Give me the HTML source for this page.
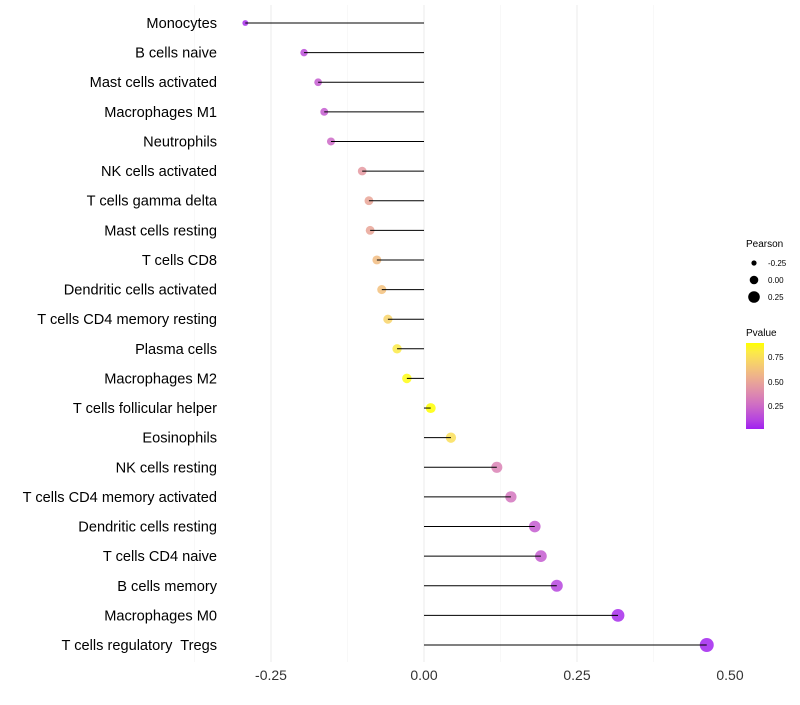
<!DOCTYPE html>
<html><head><meta charset="utf-8"><style>
body{margin:0;background:#fff;font-family:"Liberation Sans",sans-serif;}
text{white-space:pre;}
</style></head><body>
<svg id="chart" width="800" height="700" xmlns="http://www.w3.org/2000/svg">
<defs><linearGradient id="pg" x1="0" y1="1" x2="0" y2="0"></linearGradient></defs>
<g id="grid"></g><g id="marks"></g><g id="stems"></g><g id="labels"></g>
<g font-size="10">
<text x="746" y="247" fill="#000">Pearson</text>
<circle cx="754" cy="263" r="2.6" fill="#000"/><text x="768" y="266" font-size="8">-0.25</text>
<circle cx="754" cy="280" r="4.3" fill="#000"/><text x="768" y="283" font-size="8">0.00</text>
<circle cx="754" cy="297" r="5.8" fill="#000"/><text x="768" y="300" font-size="8">0.25</text>
<text x="746" y="336" fill="#000">Pvalue</text>
<rect x="746" y="343" width="18" height="86" fill="url(#pg)"/>
<text x="768" y="360" font-size="8">0.75</text>
<text x="768" y="385" font-size="8">0.50</text>
<text x="768" y="409" font-size="8">0.25</text>
</g>
</svg>
<script>
const categories=["Monocytes","B cells naive","Mast cells activated","Macrophages M1","Neutrophils","NK cells activated","T cells gamma delta","Mast cells resting","T cells CD8","Dendritic cells activated","T cells CD4 memory resting","Plasma cells","Macrophages M2","T cells follicular helper","Eosinophils","NK cells resting","T cells CD4 memory activated","Dendritic cells resting","T cells CD4 naive","B cells memory","Macrophages M0","T cells regulatory  Tregs"];
const pearson=[-0.292,-0.196,-0.173,-0.163,-0.152,-0.101,-0.090,-0.088,-0.077,-0.069,-0.059,-0.044,-0.028,0.011,0.044,0.119,0.142,0.181,0.191,0.217,0.317,0.462];
const pvalue=[0.05,0.15,0.2,0.2,0.25,0.45,0.5,0.5,0.6,0.62,0.7,0.8,0.88,0.95,0.75,0.35,0.3,0.2,0.2,0.12,0.05,0.03];
const xTicks=[-0.25,0,0.25,0.5];
const xTickLabels=["-0.25","0.00","0.25","0.50"];
const NS="http://www.w3.org/2000/svg";
const xs=v=>424+v*612;
const ys=i=>23+i*(622/21);
const rs=v=>Math.sqrt(Math.max(2.5,13.7+53.6*(v+0.196)));
function toLin(c){c/=255;return c<=0.04045?c/12.92:Math.pow((c+0.055)/1.055,2.4);}
function fromLin(c){c=c<=0.0031308?12.92*c:1.055*Math.pow(c,1/2.4)-0.055;return Math.round(Math.max(0,Math.min(1,c))*255);}
function rgb2lab(r,g,b){r=toLin(r);g=toLin(g);b=toLin(b);
let x=(0.4124*r+0.3576*g+0.1805*b)/0.95047,y=0.2126*r+0.7152*g+0.0722*b,z=(0.0193*r+0.1192*g+0.9505*b)/1.08883;
const f=t=>t>0.008856?Math.cbrt(t):7.787*t+16/116;x=f(x);y=f(y);z=f(z);return [116*y-16,500*(x-y),200*(y-z)];}
function lab2rgb(L,a,b){let y=(L+16)/116,x=a/500+y,z=y-b/200;const fi=t=>t*t*t>0.008856?t*t*t:(t-16/116)/7.787;
x=fi(x)*0.95047;y=fi(y);z=fi(z)*1.08883;
const r=3.2406*x-1.5372*y-0.4986*z,g=-0.9689*x+1.8758*y+0.0415*z,bb=0.0557*x-0.2040*y+1.0570*z;return [fromLin(r),fromLin(g),fromLin(bb)];}
const lo=rgb2lab(160,32,240),hi=rgb2lab(255,255,0);
function colT(t){t=Math.max(0,Math.min(1,t));const c=lab2rgb(lo[0]+(hi[0]-lo[0])*t,lo[1]+(hi[1]-lo[1])*t,lo[2]+(hi[2]-lo[2])*t);return `rgb(${c[0]},${c[1]},${c[2]})`;}
function col(p){return colT((p-0.02)/0.87);}
function mk(tag,a,parent){const e=document.createElementNS(NS,tag);for(const k in a)e.setAttribute(k,a[k]);parent.appendChild(e);return e;}
const grad=document.getElementById('pg');
for(let k=0;k<=10;k++){mk('stop',{offset:k/10,'stop-color':colT(k/10)},grad);}
const grid=document.getElementById('grid'),marks=document.getElementById('marks'),stems=document.getElementById('stems'),labels=document.getElementById('labels');
for(let k=0;k<7;k++){const v=-0.375+k*0.125;const l=mk('line',{x1:xs(v),x2:xs(v),y1:5,y2:662,stroke:k%2?'#ebebeb':'#f4f4f4','stroke-width':k%2?1:0.6},grid);

}
xTicks.forEach((v,i)=>{const t=mk('text',{x:xs(v),y:680,'text-anchor':'middle','font-size':14,fill:'#333'},labels);t.textContent=xTickLabels[i];

});
categories.forEach((c,i)=>{const y=ys(i);
const t=mk('text',{x:217,y:y+5,'text-anchor':'end','font-size':14.6,fill:'#000'},labels);t.textContent=c;


const p=mk('circle',{cx:xs(pearson[i]),cy:y,r:rs(pearson[i]),fill:col(pvalue[i]),'fill-opacity':0.85},marks);


const l=mk('line',{x1:xs(0),x2:xs(pearson[i]),y1:y,y2:y,stroke:'#000','stroke-width':1},stems);

});
</script>
</body></html>
